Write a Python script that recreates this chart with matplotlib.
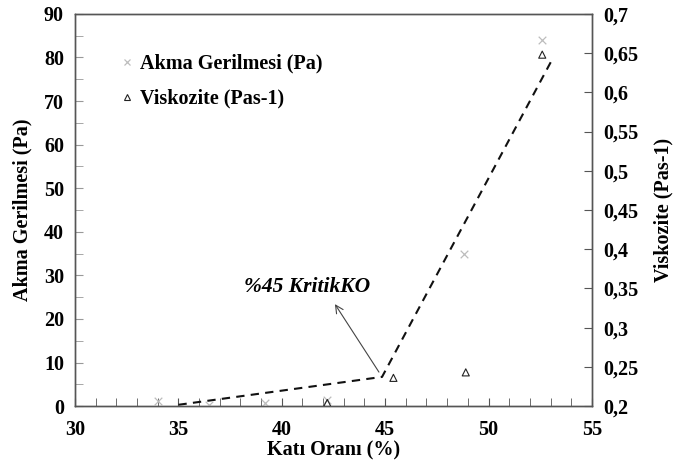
import matplotlib
matplotlib.use("Agg")
import matplotlib.pyplot as plt
from matplotlib.ticker import MultipleLocator, FuncFormatter
from matplotlib.lines import Line2D

# Yield stress (left axis)
akma_x = [34.0, 36.5, 39.2, 42.2, 48.8, 52.6]
akma_y = [1.2, 0.2, 0.7, 1.4, 34.8, 84.0]

# Viscosity (right axis)
visk_x = [42.2, 45.4, 48.9, 52.6]
visk_y = [0.204, 0.236, 0.243, 0.648]

# Piecewise trend with a break at the critical solids ratio
trend_x = [35.0, 44.85, 53.1]
trend_y = [0.3, 6.7, 79.7]

note_text = "%45 KritikKO"
note_xy = (41.2, 27.3)
arrow_head = (42.57, 23.4)
arrow_tail = (44.7, 7.8)

plt.rcParams["font.family"] = ["Liberation Serif", "DejaVu Serif"]
plt.rcParams["font.weight"] = "bold"

fig = plt.figure(figsize=(6.89, 4.62), dpi=100)
ax = fig.add_axes([0.109, 0.121, 0.750, 0.849])
ax2 = ax.twinx()

spine_c = "#555555"
fs = 14.5

ax.scatter(akma_x, akma_y, marker="x", s=30, color="#bdbdbd", linewidths=0.9, zorder=3)
ax2.scatter(visk_x, visk_y, marker="^", s=26, facecolors="none", edgecolors="#222222",
            linewidths=0.8, zorder=3)
ax.plot(trend_x, trend_y, linestyle=(0, (4, 3)), color="#111111", lw=1.5, zorder=2)

ax.annotate("", xy=arrow_head, xytext=arrow_tail,
            arrowprops=dict(arrowstyle="->", color="#444444", lw=0.8,
                            mutation_scale=14, shrinkA=0, shrinkB=0))
ax.text(*note_xy, note_text, ha="center", va="center", fontsize=15.5,
        fontstyle="italic", fontweight="bold")

ax.set_xlim(30, 55)
ax.set_ylim(0, 90)
ax2.set_ylim(0.2, 0.7)

ax.xaxis.set_major_locator(MultipleLocator(5))
ax.xaxis.set_minor_locator(MultipleLocator(1))
ax.yaxis.set_major_locator(MultipleLocator(10))
ax.yaxis.set_minor_locator(MultipleLocator(5))
ax2.yaxis.set_major_locator(MultipleLocator(0.05))

ax2.yaxis.set_major_formatter(FuncFormatter(lambda v, p: ("%g" % round(v, 3)).replace(".", ",")))

for a in (ax, ax2):
    for s in a.spines.values():
        s.set_color(spine_c)
        s.set_linewidth(1.0)

ax.tick_params(axis="x", which="both", direction="in", length=6, color=spine_c,
               labelsize=fs, pad=10)
ax.tick_params(axis="y", which="both", direction="in", length=6, color="#999999",
               labelsize=fs, pad=8)
ax2.tick_params(axis="y", which="major", direction="in", length=6, color=spine_c,
                labelsize=fs, pad=8)

ax.set_xlabel("Katı Oranı (%)", fontsize=fs, fontweight="bold", labelpad=0)
ax.set_ylabel("Akma Gerilmesi (Pa)", fontsize=fs, fontweight="bold", labelpad=8)
ax2.set_ylabel("Viskozite (Pas-1)", fontsize=fs, fontweight="bold", labelpad=11)

handles = [
    Line2D([], [], marker="x", linestyle="none", color="#bdbdbd", markersize=5, mew=0.9),
    Line2D([], [], marker="^", linestyle="none", markerfacecolor="none",
           markeredgecolor="#222222", markersize=5, mew=0.8),
]
ax.legend(handles, ["Akma Gerilmesi (Pa)", "Viskozite (Pas-1)"], loc="upper left",
          bbox_to_anchor=(0.055, 0.945), frameon=False, fontsize=fs,
          handlelength=0.5, handletextpad=0.4, labelspacing=0.75)

fig.savefig("out.png", dpi=100)
